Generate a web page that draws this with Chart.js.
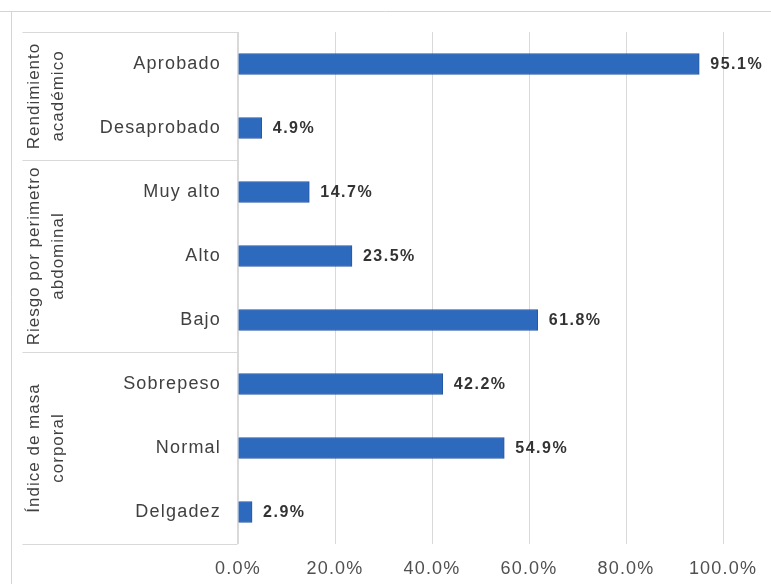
<!DOCTYPE html>
<html>
<head>
<meta charset="utf-8">
<script src="https://cdn.jsdelivr.net/npm/chart.js@4"></script>
<style>
  html, body { margin: 0; padding: 0; background: #fff; }
  #wrap { width: 771px; height: 584px; }
</style>
</head>
<body>
<div id="wrap"><canvas id="myChart" width="771" height="584"></canvas></div>
<script>
var categories = ['Aprobado', 'Desaprobado', 'Muy alto', 'Alto', 'Bajo', 'Sobrepeso', 'Normal', 'Delgadez'];
var values = [95.1, 4.9, 14.7, 23.5, 61.8, 42.2, 54.9, 2.9];
var groupNames = [['Rendimiento', 'académico'], ['Riesgo por perimetro', 'abdominal'], ['Índice de masa', 'corporal']];
var groupSizes = [2, 3, 3];
var xTicks = [0, 20, 40, 60, 80, 100];

var FONT = '"Liberation Sans", Arial, sans-serif';

// outer frame + group boxes on the left
var groupPlugin = {
  id: 'groups',
  beforeDraw: function(chart) {
    var c = chart.ctx;
    c.save();
    c.strokeStyle = '#d4d4d4';
    c.lineWidth = 1;
    c.beginPath();
    c.moveTo(0, 11.5); c.lineTo(771, 11.5);
    c.moveTo(11.5, 11.5); c.lineTo(11.5, 584);
    c.stroke();
    c.restore();
    c.letterSpacing = '1.2px';
  },
  afterDraw: function(chart) {
    var c = chart.ctx;
    var y = chart.scales.y;
    var area = chart.chartArea;
    var step = (area.bottom - area.top) / categories.length;
    var left = 22.5, right = area.left - 0.5;
    c.save();
    c.strokeStyle = '#d9d9d9';
    c.lineWidth = 1;
    var start = 0;
    var bounds = [area.top];
    groupSizes.forEach(function(n) {
      start += n;
      bounds.push(y.getPixelForValue(start - 1) + step / 2);
    });
    c.beginPath();
    bounds.forEach(function(b) {
      var yy = Math.round(b) + 0.5;
      c.moveTo(left, yy); c.lineTo(right, yy);
    });
    c.moveTo(right, area.top); c.lineTo(right, area.bottom);
    c.stroke();
    c.fillStyle = '#404040';
    c.font = '17px ' + FONT;
    c.letterSpacing = '1px';
    c.textAlign = 'center';
    c.textBaseline = 'middle';
    for (var g = 0; g < groupNames.length; g++) {
      var mid = (bounds[g] + bounds[g + 1]) / 2;
      c.save();
      c.translate(34, mid);
      c.rotate(-Math.PI / 2);
      c.fillText(groupNames[g][0], 0, 0);
      c.fillText(groupNames[g][1], 0, 24);
      c.restore();
    }
    // value labels
    var meta = chart.getDatasetMeta(0);
    c.fillStyle = '#333333';
    c.font = 'bold 16px ' + FONT;
    c.letterSpacing = '1.5px';
    c.textAlign = 'left';
    meta.data.forEach(function(bar, i) {
      c.fillText(values[i].toFixed(1) + '%', bar.x + 11, bar.y + 1);
    });
    c.restore();
    c.letterSpacing = '0px';
  }
};

var ctx = document.getElementById('myChart').getContext('2d');
var chart = new Chart(ctx, {
  type: 'bar',
  data: {
    labels: categories,
    datasets: [{
      data: values,
      backgroundColor: '#2d69bc',
      borderColor: '#2659a4',
      borderWidth: 1,
      barThickness: 21
    }]
  },
  options: {
    indexAxis: 'y',
    responsive: false,
    animation: false,
    layout: { padding: { top: 32, right: 48, bottom: 0, left: 0 } },
    plugins: { legend: { display: false }, tooltip: { enabled: false } },
    scales: {
      y: {
        afterFit: function(scale) { scale.width = 238; },
        grid: { display: false, drawTicks: false },
        border: { display: false },
        ticks: {
          padding: 17,
          color: '#404040',
          font: { size: 18, family: FONT }
        }
      },
      x: {
        min: 0,
        max: 100,
        afterFit: function(scale) { scale.height = 40; },
        afterBuildTicks: function(scale) {
          scale.ticks = xTicks.map(function(v) { return { value: v }; });
        },
        grid: { color: '#d9d9d9', drawTicks: false },
        border: { display: false },
        ticks: {
          padding: 14,
          color: '#505050',
          font: { size: 18, family: FONT },
          callback: function(v) { return v.toFixed(1) + '%'; }
        }
      }
    }
  },
  plugins: [groupPlugin]
});
</script>
</body>
</html>
